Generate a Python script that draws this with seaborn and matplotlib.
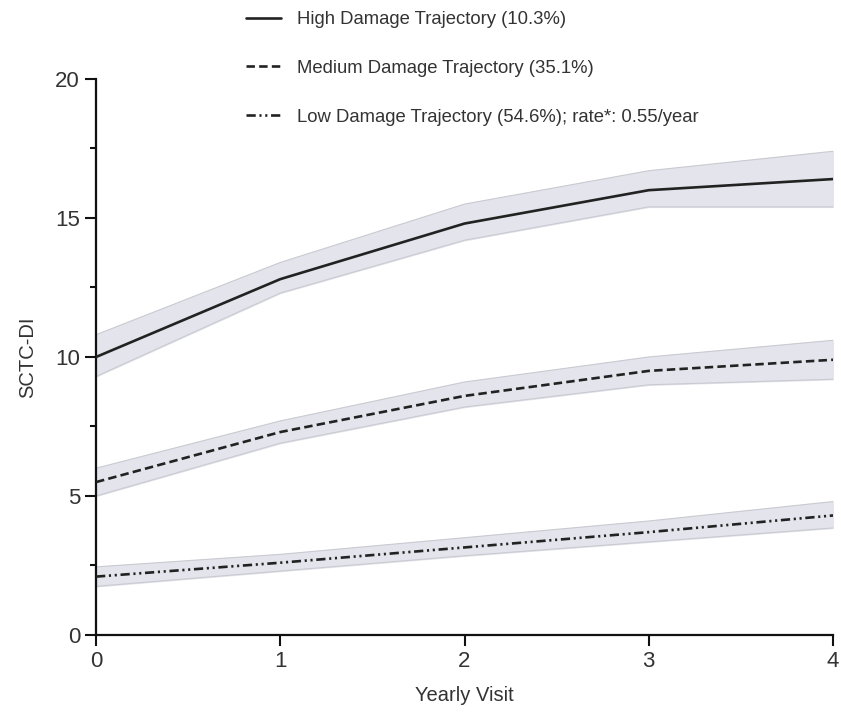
import numpy as np
import pandas as pd
import matplotlib
matplotlib.use("Agg")
import matplotlib.pyplot as plt
import seaborn as sns
from matplotlib.ticker import MultipleLocator

# Données
visits = [0, 1, 2, 3, 4]

high_mean = [10.0, 12.8, 14.8, 16.0, 16.4]
high_low = [9.3, 12.3, 14.2, 15.4, 15.4]
high_up = [10.8, 13.4, 15.5, 16.7, 17.4]

medium_mean = [5.5, 7.3, 8.6, 9.5, 9.9]
medium_low = [5.0, 6.9, 8.2, 9.0, 9.2]
medium_up = [6.0, 7.7, 9.1, 10.0, 10.6]

low_mean = [2.1, 2.6, 3.15, 3.7, 4.3]
low_low = [1.75, 2.3, 2.85, 3.35, 3.85]
low_up = [2.45, 2.9, 3.5, 4.1, 4.8]

labels = ["High Damage Trajectory (10.3%)",
          "Medium Damage Trajectory (35.1%)",
          "Low Damage Trajectory (54.6%); rate*: 0.55/year"]

sns.set_style("ticks")
plt.rcParams['font.family'] = ['Liberation Sans', 'DejaVu Sans']

fig = plt.figure(figsize=(8.41, 7.18), dpi=100)
ax = fig.add_axes([0.1142, 0.1156, 0.8763, 0.7744])

series = [
    (high_mean, high_low, high_up, '-'),
    (medium_mean, medium_low, medium_up, (0, (3.2, 1.6))),
    (low_mean, low_low, low_up, (0, (3.5, 1.4, 0.8, 1.4, 0.8, 1.4))),
]

band_color = '#e3e4ec'
edge_color = '#cacbd1'
line_color = '#222222'

for (m, lo, up, ls), lab in zip(series, labels):
    ax.fill_between(visits, lo, up, color=band_color, zorder=1)
    ax.plot(visits, lo, color=edge_color, lw=0.8, zorder=1.5)
    ax.plot(visits, up, color=edge_color, lw=0.8, zorder=1.5)
    df = pd.DataFrame({'visit': visits, 'value': m})
    sns.lineplot(data=df, x='visit', y='value', ax=ax, color=line_color,
                 linewidth=1.9, linestyle=ls, label=lab, zorder=3)

ax.set_xlim(0, 4)
ax.set_ylim(0, 20)
ax.set_xticks(visits)
ax.yaxis.set_major_locator(MultipleLocator(5))
ax.yaxis.set_minor_locator(MultipleLocator(2.5))
ax.tick_params(axis='both', which='major', labelsize=16, width=1.5, length=8,
               colors='#111111', labelcolor='#333333')
ax.tick_params(axis='y', which='minor', width=1.5, length=4.5, colors='#111111')
for s in ['left', 'bottom']:
    ax.spines[s].set_linewidth(1.6)
    ax.spines[s].set_color('#111111')
sns.despine(ax=ax)

ax.set_xlabel("Yearly Visit", fontsize=14.5, color='#333333', labelpad=10)
ax.set_ylabel("SCTC-DI", fontsize=14.5, color='#333333', labelpad=13)

leg = ax.legend(loc='upper left', bbox_to_anchor=(0.279, 1.0), bbox_transform=fig.transFigure,
                frameon=False, fontsize=13.3, labelspacing=1.72, handlelength=1.9,
                handletextpad=0.9, borderaxespad=0.2)
for t in leg.get_texts():
    t.set_color('#333333')

plt.savefig("out.png", dpi=100)
